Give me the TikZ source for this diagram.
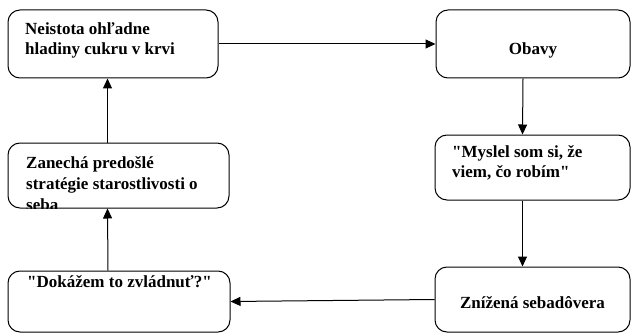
\documentclass[tikz,border=0pt]{standalone}
\usepackage{fontspec}
\setmainfont{Liberation Serif}
\usetikzlibrary{arrows.meta}
\tikzset{
	krok/.style={draw, rectangle, rounded corners=12pt, line width=1pt, inner sep=0pt},
	popis/.style={inner sep=0pt, align=left, font=\bfseries\fontsize{17}{20}\selectfont},
	sipka/.style={line width=1pt, -{Triangle[length=10pt,width=9pt]}}
}

\begin{document}
\begin{tikzpicture}[x=1pt, y=-1pt]
					\useasboundingbox (0,0) rectangle (631,334);
					% boxy
					\node[krok, minimum width=210pt, minimum height=68pt] (neistota) at (113,44) {};
					\node[krok, minimum width=194pt, minimum height=68pt] (obavy) at (533,44) {};
					\node[krok, minimum width=195pt, minimum height=65pt] (myslel) at (532.5,167.5) {};
					\node[krok, minimum width=195pt, minimum height=65pt] (znizena) at (532.5,299.5) {};
					\node[krok, minimum width=222pt, minimum height=61pt] (dokazem) at (119,301.5) {};
					\node[krok, minimum width=221pt, minimum height=65pt] (zanecha) at (118.5,175.5) {};
					% texty (base = posledny riadok)
					\node[popis, anchor=base west] (tneistota) at (25,55) {Neistota ohľadne\\hladiny cukru v krvi};
					\node[popis, anchor=base] (tobavy) at (533,55) {Obavy};
					\node[popis, anchor=base west] (tmyslel) at (452,177) {\textquotedbl Myslel som si, že\\viem, čo robím\textquotedbl};
					\node[popis, anchor=base] (tznizena) at (532.5,308) {Znížená sebadôvera};
					\node[popis, anchor=base west] (tdokazem) at (27,287) {\textquotedbl Dokážem to zvládnuť?\textquotedbl};
					\begin{scope}
						\clip (zanecha.north west) rectangle ([yshift=0.5pt]zanecha.south east);
						\node[popis, anchor=base west, font=\bfseries\fontsize{17}{21}\selectfont] (tzanecha) at (26,210) {Zanechá predošlé\\stratégie starostlivosti o\\seba};
					\end{scope}
					% sipky
					\draw[sipka] (neistota.east) -- (obavy.west);
					\draw[sipka] ([xshift=-10pt]obavy.south) -- ([xshift=-10pt]myslel.north);
					\draw[sipka] ([xshift=-10pt]myslel.south) -- ([xshift=-10pt]znizena.north);
					\draw[sipka] (znizena.west) -- (dokazem.east);
					\draw[sipka] ([xshift=-11pt]dokazem.north) -- ([xshift=-11pt]zanecha.south);
					\draw[sipka] ([xshift=-11pt]zanecha.north) -- ([xshift=-11pt]zanecha.north |- neistota.south);
\end{tikzpicture}
\end{document}
